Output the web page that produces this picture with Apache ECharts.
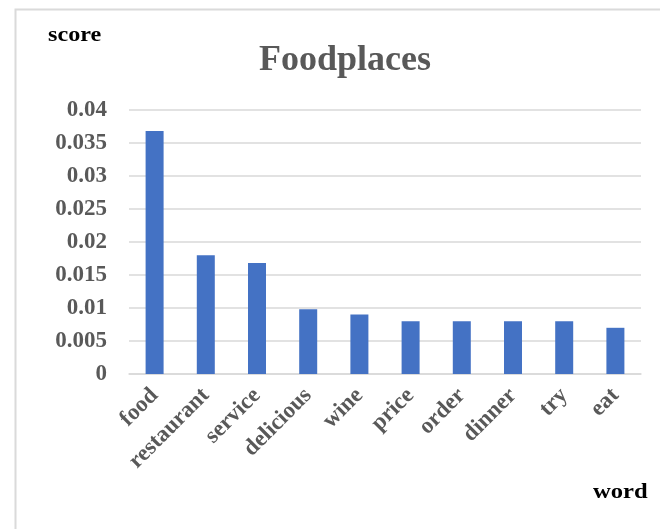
<!DOCTYPE html>
<html>
<head>
<meta charset="utf-8">
<script src="https://cdn.jsdelivr.net/npm/echarts@6/dist/echarts.min.js"></script>
<style>
  html, body { margin: 0; padding: 0; background: #ffffff; }
  #chart { width: 660px; height: 529px; }
</style>
</head>
<body>
<div id="chart"></div>
<script>
// Top words by score for the Foodplaces corpus
const words = ['food', 'restaurant', 'service', 'delicious', 'wine', 'price', 'order', 'dinner', 'try', 'eat'];
const scores = [0.0368, 0.018, 0.0168, 0.0098, 0.009, 0.008, 0.008, 0.008, 0.008, 0.007];
const yTicks = [0, 0.005, 0.01, 0.015, 0.02, 0.025, 0.03, 0.035, 0.04];

const serif = '"Liberation Serif", "Times New Roman", serif';
const gray = '#595959';

const chart = echarts.init(document.getElementById('chart'), null, { renderer: 'canvas' });

chart.setOption({
  backgroundColor: '#ffffff',
  animation: false,
  graphic: [
    {
      type: 'rect',
      shape: { x: 15.5, y: 9.5, width: 700, height: 600 },
      style: { fill: 'none', stroke: '#DADADA', lineWidth: 2 },
      silent: true
    },
    {
      type: 'text',
      x: 48, y: 46,
      scaleX: 1.1,
      style: { text: 'score', font: 'bold 22px ' + serif, fill: '#000000', textVerticalAlign: 'bottom' }
    },
    {
      type: 'text',
      x: 593, y: 503,
      scaleX: 1.12,
      style: { text: 'word', font: 'bold 22px ' + serif, fill: '#000000', textVerticalAlign: 'bottom' }
    }
  ],
  title: {
    text: 'Foodplaces',
    left: 340,
    textAlign: 'center',
    top: 38,
    textStyle: { fontFamily: serif, fontWeight: 'bold', fontSize: 36, color: gray }
  },
  grid: { left: 129, right: 19, top: 110, bottom: 155, containLabel: false },
  xAxis: {
    type: 'category',
    data: words,
    axisLine: { show: true, lineStyle: { color: '#D9D9D9', width: 1.5 } },
    axisTick: { show: false },
    axisLabel: {
      rotate: 45,
      interval: 0,
      margin: 18,
      fontFamily: serif,
      fontWeight: 'bold',
      fontSize: 23,
      color: gray
    }
  },
  yAxis: {
    type: 'value',
    min: yTicks[0],
    max: yTicks[yTicks.length - 1],
    interval: 0.005,
    axisLine: { show: false },
    axisTick: { show: false },
    splitLine: { lineStyle: { color: '#D9D9D9', width: 1.5 } },
    axisLabel: {
      margin: 22,
      fontFamily: serif,
      fontWeight: 'bold',
      fontSize: 23,
      color: gray,
      formatter: v => String(+v.toFixed(3))
    }
  },
  series: [{
    type: 'bar',
    data: scores,
    barWidth: 18,
    itemStyle: { color: '#4472C4' }
  }]
});
</script>
</body>
</html>
